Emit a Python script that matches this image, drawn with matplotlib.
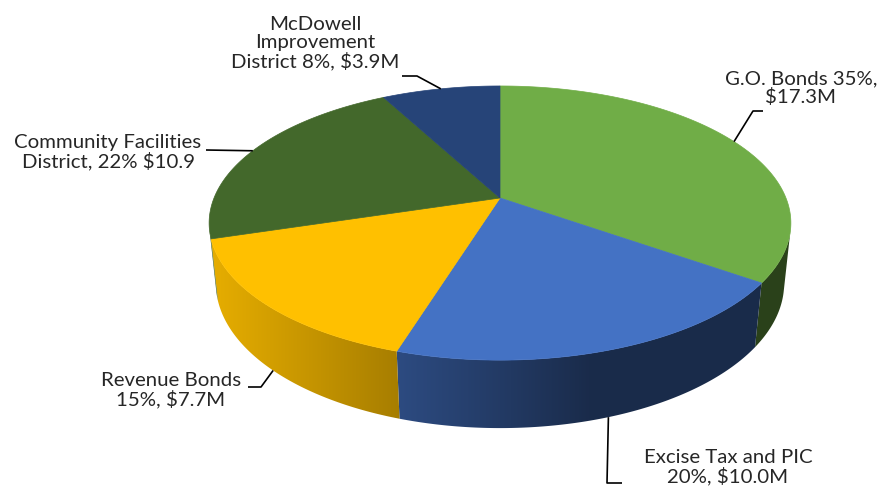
import numpy as np
import matplotlib
matplotlib.use("Agg")
import matplotlib.pyplot as plt
from matplotlib.patches import Polygon

# Funding sources ($M), drawn clockwise from 12 o'clock
sources = ["G.O. Bonds", "Excise Tax and PIC", "Revenue Bonds",
           "Community Facilities District", "McDowell Improvement District"]
values = [17.3, 10.0, 7.7, 10.9, 3.9]
labels = ["G.O. Bonds 35%,\n$17.3M",
          "Excise Tax and PIC\n20%, $10.0M",
          "Revenue Bonds\n15%, $7.7M",
          "Community Facilities\nDistrict, 22% $10.9",
          "McDowell\nImprovement\nDistrict 8%, $3.9M"]
colors = ["#70AD47", "#4472C4", "#FFC000", "#43682B", "#264478"]

# label block centres, leader elbow and leader end (pixel layout)
label_pos = [(801, 88), (728, 467), (171, 390), (108, 152), (315, 43)]
leader_elbow = [(753, 111), (607, 483), (261, 387), (206, 150), (417, 76)]
leader_end = [(763, 111), (622, 483), (248, 387), (206, 150), (402, 76)]

# perspective camera for the 3-D pie
ELEV = np.radians(27.6)
DIST = 4.85
FOCAL = 1387.0
CX, CY = 500.0, 198.0
THICK = 0.24


def project(t, z):
    x, y = np.cos(t), np.sin(t)
    depth = DIST + y * np.cos(ELEV) - z * np.sin(ELEV)
    sx = FOCAL * x / depth
    sy = FOCAL * (y * np.sin(ELEV) + z * np.cos(ELEV)) / depth
    return CX + sx, CY - sy


def shade(t):
    lam = np.cos(t - np.radians(195.0))
    return 0.38 + 0.52 * np.maximum(0.0, lam)


fig = plt.figure(figsize=(8.85, 4.96), dpi=100)
ax = fig.add_axes([0, 0, 1, 1])
ax.set_xlim(0, 885)
ax.set_ylim(496, 0)
ax.axis("off")

total = sum(values)
spans = [v / total * 2 * np.pi for v in values]
starts = np.pi / 2 - np.concatenate([[0], np.cumsum(spans)[:-1]])
ends = starts - np.array(spans)

# outer wall is visible where its normal faces the camera
k = np.arcsin(1.0 / (DIST * np.cos(ELEV)))
vis_lo, vis_hi = -np.pi + k, -k

for hi, lo, col in zip(starts, ends, colors):
    a = max(lo, vis_lo)
    b = min(hi, vis_hi)
    if b <= a:
        continue
    ts = np.linspace(a, b, 300)
    top = np.array([project(t, 0) for t in ts])
    bot = np.array([project(t, -THICK) for t in ts])
    outline = np.vstack([top, bot[::-1]])
    wall = Polygon(outline, closed=True, facecolor="none", edgecolor="none")
    ax.add_patch(wall)
    # horizontal shading gradient across the wall
    x0, x1 = outline[:, 0].min() - 1, outline[:, 0].max() + 1
    y0, y1 = outline[:, 1].min() - 1, outline[:, 1].max() + 1
    xs = np.linspace(x0, x1, 400)
    tx = np.interp(xs, top[:, 0], ts)
    base = np.array(matplotlib.colors.to_rgb(col))
    row = np.clip(base[None, :] * shade(tx)[:, None], 0, 1)
    img = np.repeat(row[None, :, :], 2, axis=0)
    im = ax.imshow(img, extent=(x0, x1, y1, y0), aspect="auto",
                   interpolation="bilinear", zorder=1)
    im.set_clip_path(wall)
    edge_col = np.clip(base * shade(0.5 * (a + b)), 0, 1)

# top faces
for hi, lo, col in zip(starts, ends, colors):
    ts = np.linspace(hi, lo, 200)
    pts = [(CX, CY)] + [project(t, 0) for t in ts]
    ax.add_patch(Polygon(pts, closed=True, facecolor=col, edgecolor=col,
                         linewidth=0.5, zorder=2))

ax.set_xlim(0, 885)
ax.set_ylim(496, 0)

# labels and leader lines
for i, (hi, lo) in enumerate(zip(starts, ends)):
    mid = 0.5 * (hi + lo)
    front = np.sin(mid) < -1.0 / (DIST * np.cos(ELEV))
    anchor = project(mid, -THICK if front else 0)
    xs = [anchor[0], leader_elbow[i][0], leader_end[i][0]]
    ys = [anchor[1], leader_elbow[i][1], leader_end[i][1]]
    ax.plot(xs, ys, color="black", lw=1.2, solid_capstyle="butt", zorder=3)
    ax.text(label_pos[i][0], label_pos[i][1], labels[i], ha="center",
            va="center", multialignment="center", fontsize=14.7,
            family=["Lato", "DejaVu Sans"], color="#262626", linespacing=1.08,
            zorder=4)

fig.savefig("out.png", dpi=100, facecolor="white")
